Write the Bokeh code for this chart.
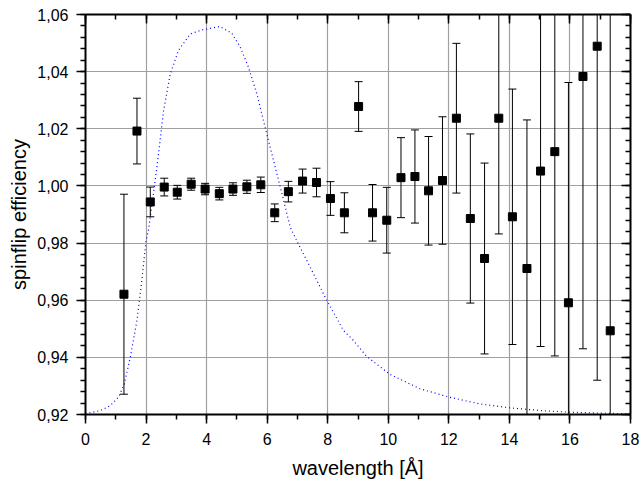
from bokeh.plotting import figure
from bokeh.models import Range1d, LinearAxis, SingleIntervalTicker, CustomJSTickFormatter, ColumnDataSource
from bokeh.embed import file_html
from bokeh.resources import INLINE

# measured data
wavelength = [1.27, 1.70, 2.14, 2.60, 3.03, 3.49, 3.95, 4.42, 4.87, 5.33, 5.79, 6.25,
              6.70, 7.17, 7.63, 8.09, 8.55, 9.02, 9.48, 9.95, 10.42, 10.88, 11.33, 11.79,
              12.25, 12.71, 13.18, 13.65, 14.10, 14.58, 15.03, 15.50, 15.95, 16.43, 16.90, 17.33]
efficiency = [0.9621, 1.0192, 0.9944, 0.9996, 0.9978, 1.0006, 0.9989, 0.9973, 0.9989, 0.9997,
              1.0004, 0.9906, 0.9980, 1.0017, 1.0012, 0.9956, 0.9906, 1.0278, 0.9906, 0.9880,
              1.0029, 1.0033, 0.9983, 1.0019, 1.0237, 0.9886, 0.9746, 1.0237, 0.9892, 0.9711,
              1.0052, 1.0120, 0.9591, 1.0383, 1.0489, 0.9493]
error = [0.0350, 0.0115, 0.0052, 0.0031, 0.0024, 0.0021, 0.0020, 0.0022, 0.0022, 0.0023,
         0.0027, 0.0031, 0.0036, 0.0042, 0.0050, 0.0059, 0.0070, 0.0087, 0.0099, 0.0115,
         0.0140, 0.0163, 0.0190, 0.0223, 0.0262, 0.0296, 0.0334, 0.0405, 0.0447, 0.0520,
         0.0614, 0.0715, 0.0771, 0.0953, 0.1169, 0.1400]

# spectrum curve (dotted blue)
spec_x = [0.0, 0.15, 0.5, 0.82, 1.10, 1.28, 1.48, 1.70, 1.86, 2.00, 2.08, 2.36, 2.58, 2.80,
          3.07, 3.46, 3.84, 4.43, 4.83, 5.11, 5.38, 5.66, 5.93, 6.21, 6.49, 6.76, 7.03,
          7.42, 7.97, 8.52, 8.85, 9.29, 10.06, 11.05, 12.04, 13.03, 14.03, 15.02, 16.00,
          16.99, 18.00]
spec_y = [0.9203, 0.9206, 0.9214, 0.9231, 0.9262, 0.9307, 0.9400, 0.9529, 0.9669, 0.9809,
          0.9844, 1.0066, 1.0264, 1.0392, 1.0474, 1.0532, 1.0546, 1.0558, 1.0535, 1.0486,
          1.0416, 1.0322, 1.0206, 1.0089, 0.9972, 0.9856, 0.9797, 0.9716, 0.9599, 0.9494,
          0.9459, 0.9403, 0.9340, 0.9290, 0.9260, 0.9237, 0.9223, 0.9214, 0.9208, 0.9205,
          0.9202]

upper = [y + e for y, e in zip(efficiency, error)]
lower = [y - e for y, e in zip(efficiency, error)]
src = ColumnDataSource(dict(x=wavelength, y=efficiency, up=upper, lo=lower))

FONT = "Liberation Sans"

p = figure(width=640, height=483, output_backend="svg", toolbar_location=None,
           x_range=Range1d(0, 18), y_range=Range1d(0.92, 1.06),
           min_border_left=85, min_border_right=10, min_border_top=14, min_border_bottom=69,
           x_axis_label="wavelength [Å]", y_axis_label="spinflip efficiency")
p.outline_line_color = None
p.background_fill_color = "white"
p.border_fill_color = "white"

xt = SingleIntervalTicker(interval=2, num_minor_ticks=2)
yt = SingleIntervalTicker(interval=0.02, num_minor_ticks=5)
yfmt = CustomJSTickFormatter(code="return tick.toFixed(2).replace('.', ',');")

p.xaxis.ticker = xt
p.yaxis.ticker = yt
p.yaxis.formatter = yfmt
p.xgrid.ticker = xt
p.ygrid.ticker = yt
for g in (p.xgrid, p.ygrid):
    g.grid_line_color = "#a0a0a0"
    g.grid_line_width = 1.2

for ax in (p.xaxis[0], p.yaxis[0]):
    ax.axis_line_width = 2
    ax.axis_line_color = "black"
    ax.major_tick_in = 0
    ax.major_tick_out = 9
    ax.minor_tick_in = 0
    ax.minor_tick_out = 5
    ax.major_tick_line_width = 1.5
    ax.minor_tick_line_width = 1.5
    ax.major_label_text_font = FONT
    ax.major_label_text_font_size = "16px"
    ax.major_label_text_color = "black"
    ax.axis_label_text_font = FONT
    ax.axis_label_text_font_size = "20px"
    ax.axis_label_text_font_style = "normal"
    ax.axis_label_text_color = "black"
p.xaxis.major_label_standoff = 9
p.xaxis.axis_label_standoff = 9
p.yaxis.major_label_standoff = 8
p.yaxis.axis_label_standoff = 4

# mirrored axes (ticks inward, no labels)
for loc, tk in (("above", xt), ("right", yt)):
    ax = LinearAxis(ticker=tk, axis_label=None)
    ax.axis_line_width = 2
    ax.major_tick_in = 9
    ax.major_tick_out = 0
    ax.minor_tick_in = 5
    ax.minor_tick_out = 0
    ax.major_tick_line_width = 1.5
    ax.minor_tick_line_width = 1.5
    ax.major_label_text_font_size = "1px"
    ax.major_label_text_color = None
    ax.major_label_standoff = 0
    p.add_layout(ax, loc)

p.line(spec_x, spec_y, line_color="#0000ff", line_width=1.2, line_dash="1 3")

p.segment(x0="x", y0="lo", x1="x", y1="up", source=src, line_color="black", line_width=1)
p.scatter(x="x", y="up", source=src, marker="dash", size=8, line_color="black", line_width=1)
p.scatter(x="x", y="lo", source=src, marker="dash", size=8, line_color="black", line_width=1)
p.scatter(x="x", y="y", source=src, marker="square", size=8, fill_color="black", line_color="black")

open("out.html", "w").write(file_html(p, INLINE))
